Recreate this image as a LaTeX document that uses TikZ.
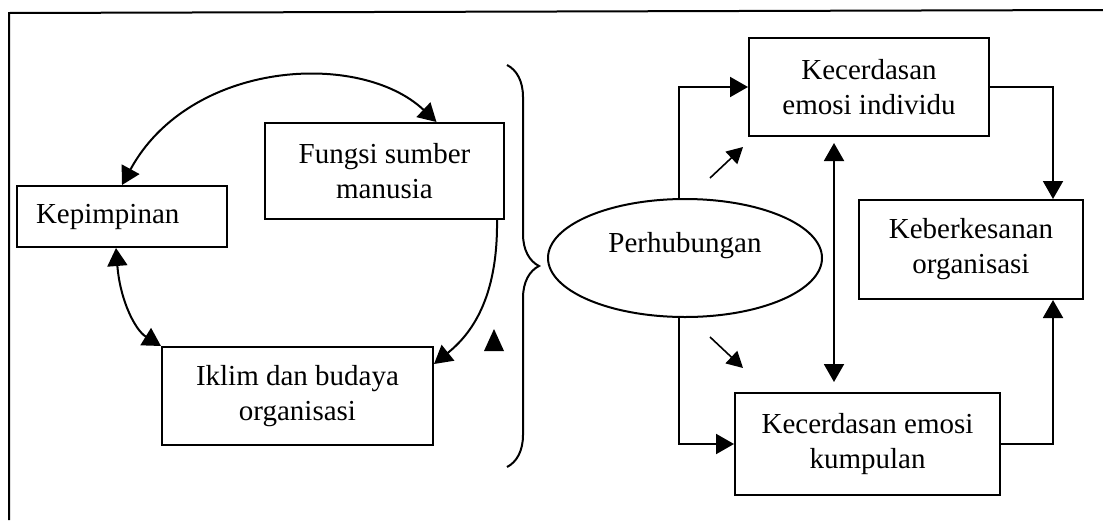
\documentclass[tikz,border=0pt]{standalone}
\usepackage{fontspec}
\setmainfont{Liberation Serif}
\usetikzlibrary{arrows.meta,positioning,shapes.geometric,decorations.pathreplacing}
\tikzset{
  blk/.style={draw, line width=1pt, inner sep=2pt, align=center, font=\fontsize{14.5}{17.5}\selectfont},
  arr/.style={-{Triangle[length=9pt, width=10pt]}, line width=1pt},
  darr/.style={{Triangle[length=9pt, width=10pt]}-{Triangle[length=9pt, width=10pt]}, line width=1pt},
  sarr/.style={-{Triangle[length=8pt, width=8.5pt]}, line width=0.8pt},
}
\begin{document}
\begin{tikzpicture}[x=0.5pt, y=-0.5pt]
  \useasboundingbox (0,0) rectangle (1103,520);
  % frame
  \draw[line width=1pt] (9,520) -- (9,13) -- (1103,10);
  % left cycle
  \node[blk, text width=86pt, inner xsep=9.5pt, minimum height=30.5pt, align=left] (kep) at (122,216.5) {Kepimpinan};
  \node[blk, minimum width=119.5pt, minimum height=48pt] (fungsi) at (384.5,171) {Fungsi sumber\\manusia};
  \node[blk, minimum width=135.5pt, minimum height=49pt] (iklim) at (297.5,396) {Iklim dan budaya\\organisasi};
  \draw[darr] (kep.north) .. controls (190,60) and (360,50) .. ([xshift=26pt]fungsi.north);
  \draw[arr] ([xshift=-4pt]fungsi.south east) .. controls (498,300) and (470,335) .. ([yshift=-9pt]iklim.north east);
  \draw[darr] ([xshift=-3pt]kep.south) .. controls (120,300) and (135,330) .. (iklim.north west);
  \fill (494,329) -- (504,351) -- (484,351) -- cycle;
  % brace
  \coordinate (brtop) at (507,65);
  \coordinate (brbot) at (507,467);
  \draw[line width=1pt, decorate, decoration={brace, amplitude=16pt}] (brtop) -- (brbot);
  % right side
  \node[blk, ellipse, inner sep=0pt, minimum width=137pt, minimum height=59pt] (perhub) at (685,258) {\smash{\raisebox{3pt}{Perhubungan}}};
  \node[blk, minimum width=120pt, minimum height=49pt] (kei) at (869,87) {Kecerdasan\\emosi individu};
  \node[blk, minimum width=112pt, minimum height=49.5pt] (keber) at (971,249.5) {Keberkesanan\\organisasi};
  \node[blk, minimum width=132.5pt, minimum height=51pt] (kek) at (867.5,444) {Kecerdasan emosi\\kumpulan};
  \coordinate (rx) at (1053,0);
  \coordinate (dx) at (834,0);
  \draw[arr] ([xshift=-3pt]perhub.north) |- (kei.west);
  \draw[arr] ([xshift=-3pt]perhub.south) |- (kek.west);
  \draw[arr] (kei.east) -| (rx |- keber.north);
  \draw[arr] (kek.east) -| (rx |- keber.south);
  \draw[darr, shorten <=3pt, shorten >=5pt] (dx |- kei.south) -- (dx |- kek.north);
  \coordinate (ua) at (710,178); \coordinate (ub) at (743,147);
  \coordinate (la) at (710,337); \coordinate (lb) at (743,368);
  \draw[sarr] (ua) -- (ub);
  \draw[sarr] (la) -- (lb);
\end{tikzpicture}
\end{document}
